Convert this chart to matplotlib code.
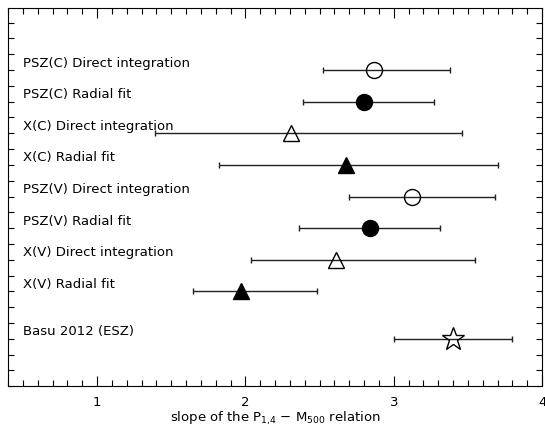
import matplotlib
matplotlib.use("Agg")
import matplotlib.pyplot as plt
from matplotlib.ticker import MultipleLocator

labels = ["PSZ(C) Direct integration", "PSZ(C) Radial fit",
          "X(C) Direct integration", "X(C) Radial fit",
          "PSZ(V) Direct integration", "PSZ(V) Radial fit",
          "X(V) Direct integration", "X(V) Radial fit",
          "Basu 2012 (ESZ)"]
rows = [10, 9, 8, 7, 6, 5, 4, 3, 1.5]
slope = [2.87, 2.80, 2.31, 2.68, 3.12, 2.84, 2.61, 1.97, 3.40]
low = [2.52, 2.39, 1.39, 1.82, 2.70, 2.36, 2.04, 1.645, 3.00]
high = [3.38, 3.27, 3.46, 3.70, 3.68, 3.31, 3.55, 2.48, 3.80]
markers = ["o", "o", "^", "^", "o", "o", "^", "^", "*"]
filled = [False, True, False, True, False, True, False, True, False]

fig = plt.figure(figsize=(5.45, 4.27), dpi=100)
ax = fig.add_axes([0.0147, 0.093, 0.98, 0.8866])

for lab, y, s, lo, hi, m, f in zip(labels, rows, slope, low, high, markers, filled):
    ax.errorbar(s, y, xerr=[[s - lo], [hi - s]], fmt="none", ecolor="#222222",
                elinewidth=1, capsize=2.5, capthick=1)
    size = 17 if m == "*" else (11.5 if m == "o" else 11)
    ax.plot(s, y, marker=m, ms=size, mec="black", mew=1,
            mfc="black" if f else "none", ls="none")
    ax.text(0.5, y + 0.25, lab, fontsize=9.5, va="center", ha="left")

ax.set_xlim(0.4, 4.0)
ax.set_ylim(0, 11.97)
ax.xaxis.set_major_locator(MultipleLocator(1))
ax.xaxis.set_minor_locator(MultipleLocator(0.1))
ax.yaxis.set_major_locator(MultipleLocator(0.5))
ax.set_yticklabels([])
ax.tick_params(axis="both", which="both", direction="in", top=True, right=True)
ax.tick_params(axis="x", which="major", length=7, width=0.8, labelsize=9.5, pad=6.5)
ax.tick_params(axis="x", which="minor", length=4, width=0.8)
ax.tick_params(axis="y", which="major", length=4, width=0.8, left=True, labelleft=False)
ax.set_xlabel(r"slope of the P$_{1{,}4}$ $-$ M$_{500}$ relation", fontsize=9.5, labelpad=0.5)

fig.savefig("out.png", dpi=100)
